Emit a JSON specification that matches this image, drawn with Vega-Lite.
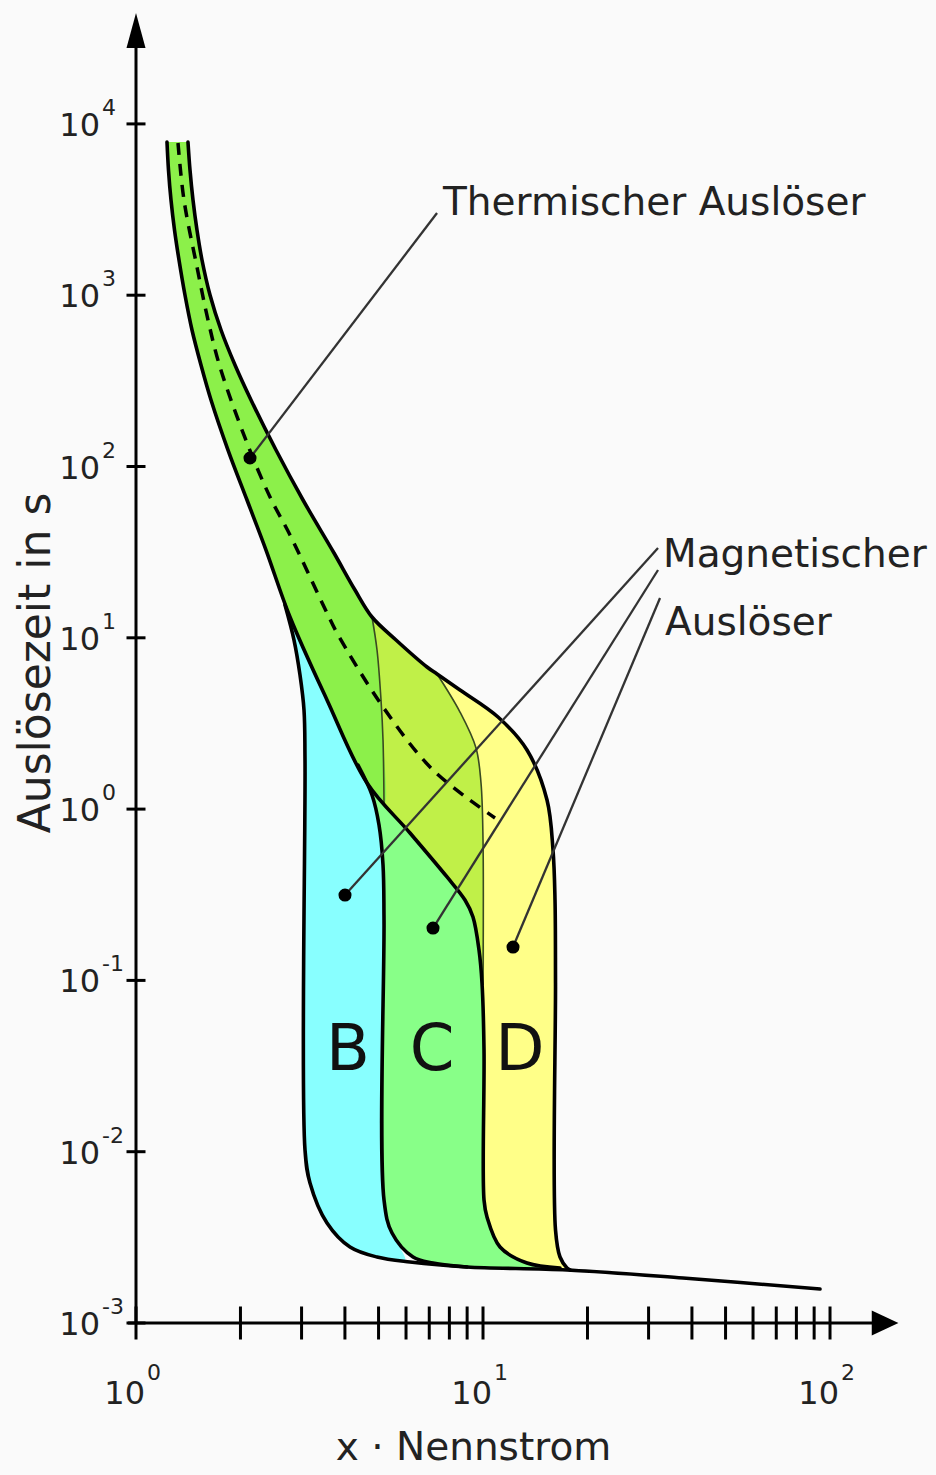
{
  "$schema": "https://vega.github.io/schema/vega-lite/v6.json",
  "width": 762,
  "height": 1310,
  "autosize": {"type": "none"},
  "padding": {"left": 136, "top": 13, "right": 38, "bottom": 152},
  "background": "#fafafa",
  "config": {"view": {"stroke": null}, "text": {"font": "DejaVu Sans", "color": "#111111"}},
  "datasets": {
    "polys": [
      {"s":"PY","i":1,"x":1.4118,"y":7841.6},{"s":"PY","i":2,"x":1.4309,"y":5381},{"s":"PY","i":3,"x":1.4597,"y":3595.5},{"s":"PY","i":4,"x":1.4988,"y":2402.6},{"s":"PY","i":5,"x":1.5495,"y":1605},{"s":"PY","i":6,"x":1.6342,"y":1002.7},{"s":"PY","i":7,"x":1.7579,"y":626.5},{"s":"PY","i":8,"x":1.9289,"y":391.3},{"s":"PY","i":9,"x":2.145,"y":244.5},{"s":"PY","i":10,"x":2.532,"y":124.8},{"s":"PY","i":11,"x":3.0288,"y":63.75},{"s":"PY","i":12,"x":3.7207,"y":31.26},{"s":"PY","i":13,"x":4.2768,"y":19.01},{"s":"PY","i":14,"x":4.787,"y":13.225},{"s":"PY","i":15,"x":5.6147,"y":9.709},{"s":"PY","i":16,"x":6.8966,"y":6.7532},{"s":"PY","i":17,"x":7.37,"y":6.146},{"s":"PY","i":18,"x":8.583,"y":4.9576},{"s":"PY","i":19,"x":11.0466,"y":3.448},{"s":"PY","i":20,"x":13.3901,"y":2.2131},{"s":"PY","i":21,"x":15.2917,"y":1.1301},{"s":"PY","i":22,"x":15.9122,"y":0.5771},{"s":"PY","i":23,"x":16.1247,"y":0.2946},{"s":"PY","i":24,"x":16.178,"y":0.09656},{"s":"PY","i":25,"x":16.178,"y":0.003491},{"s":"PY","i":26,"x":16.6686,"y":0.002428},{"s":"PY","i":27,"x":17.4611,"y":0.002095},
      {"s":"PY","i":28,"x":16.6686,"y":0.002095},{"s":"PY","i":29,"x":13.3901,"y":0.002239},{"s":"PY","i":30,"x":11.1941,"y":0.002778},{"s":"PY","i":31,"x":10.269,"y":0.004157},{"s":"PY","i":32,"x":10.0666,"y":0.005224},{"s":"PY","i":33,"x":10.0666,"y":0.03924},{"s":"PY","i":34,"x":9.9339,"y":0.09656},{"s":"PY","i":35,"x":9.7382,"y":0.1505},{"s":"PY","i":36,"x":9.3567,"y":0.2346},{"s":"PY","i":37,"x":8.8726,"y":0.2946},{"s":"PY","i":38,"x":7.8768,"y":0.4015},{"s":"PY","i":39,"x":6.1614,"y":0.7252},{"s":"PY","i":40,"x":4.6316,"y":1.4203},{"s":"PY","i":41,"x":3.5516,"y":4.3354},{"s":"PY","i":42,"x":2.7784,"y":13.225},{"s":"PY","i":43,"x":2.3695,"y":32.55},{"s":"PY","i":44,"x":2.0888,"y":63.75},{"s":"PY","i":45,"x":1.8414,"y":124.8},{"s":"PY","i":46,"x":1.645,"y":244.5},{"s":"PY","i":47,"x":1.5391,"y":391.3},{"s":"PY","i":48,"x":1.45,"y":626.5},{"s":"PY","i":49,"x":1.384,"y":1002.7},{"s":"PY","i":50,"x":1.3302,"y":1605},{"s":"PY","i":51,"x":1.2911,"y":2402.6},{"s":"PY","i":52,"x":1.2614,"y":3595.5},{"s":"PY","i":53,"x":1.2406,"y":5381},{"s":"PY","i":54,"x":1.2283,"y":7841.6},

      {"s":"PYG","i":1,"x":1.4118,"y":7841.6},{"s":"PYG","i":2,"x":1.4309,"y":5381},{"s":"PYG","i":3,"x":1.4597,"y":3595.5},{"s":"PYG","i":4,"x":1.4988,"y":2402.6},{"s":"PYG","i":5,"x":1.5495,"y":1605},{"s":"PYG","i":6,"x":1.6342,"y":1002.7},{"s":"PYG","i":7,"x":1.7579,"y":626.5},{"s":"PYG","i":8,"x":1.9289,"y":391.3},{"s":"PYG","i":9,"x":2.145,"y":244.5},{"s":"PYG","i":10,"x":2.532,"y":124.8},{"s":"PYG","i":11,"x":3.0288,"y":63.75},{"s":"PYG","i":12,"x":3.7207,"y":31.26},{"s":"PYG","i":13,"x":4.2768,"y":19.01},{"s":"PYG","i":14,"x":4.787,"y":13.225},{"s":"PYG","i":15,"x":5.6147,"y":9.709},{"s":"PYG","i":16,"x":6.8966,"y":6.7532},{"s":"PYG","i":17,"x":7.37,"y":6.146},
      {"s":"PYG","i":18,"x":8.583,"y":3.6881},{"s":"PYG","i":19,"x":9.5461,"y":2.2733},{"s":"PYG","i":20,"x":9.8682,"y":1.4203},{"s":"PYG","i":21,"x":10.0,"y":0.66},{"s":"PYG","i":22,"x":10.0,"y":0.094},
      {"s":"PYG","i":23,"x":9.9339,"y":0.09656},{"s":"PYG","i":24,"x":9.7382,"y":0.1505},{"s":"PYG","i":25,"x":9.3567,"y":0.2346},{"s":"PYG","i":26,"x":8.8726,"y":0.2946},{"s":"PYG","i":27,"x":7.8768,"y":0.4015},{"s":"PYG","i":28,"x":6.1614,"y":0.7252},{"s":"PYG","i":29,"x":4.6316,"y":1.4203},{"s":"PYG","i":30,"x":3.5516,"y":4.3354},{"s":"PYG","i":31,"x":2.7784,"y":13.225},{"s":"PYG","i":32,"x":2.3695,"y":32.55},{"s":"PYG","i":33,"x":2.0888,"y":63.75},{"s":"PYG","i":34,"x":1.8414,"y":124.8},{"s":"PYG","i":35,"x":1.645,"y":244.5},{"s":"PYG","i":36,"x":1.5391,"y":391.3},{"s":"PYG","i":37,"x":1.45,"y":626.5},{"s":"PYG","i":38,"x":1.384,"y":1002.7},{"s":"PYG","i":39,"x":1.3302,"y":1605},{"s":"PYG","i":40,"x":1.2911,"y":2402.6},{"s":"PYG","i":41,"x":1.2614,"y":3595.5},{"s":"PYG","i":42,"x":1.2406,"y":5381},{"s":"PYG","i":43,"x":1.2283,"y":7841.6},

      {"s":"PL","i":1,"x":1.4118,"y":7841.6},{"s":"PL","i":2,"x":1.4309,"y":5381},{"s":"PL","i":3,"x":1.4597,"y":3595.5},{"s":"PL","i":4,"x":1.4988,"y":2402.6},{"s":"PL","i":5,"x":1.5495,"y":1605},{"s":"PL","i":6,"x":1.6342,"y":1002.7},{"s":"PL","i":7,"x":1.7579,"y":626.5},{"s":"PL","i":8,"x":1.9289,"y":391.3},{"s":"PL","i":9,"x":2.145,"y":244.5},{"s":"PL","i":10,"x":2.532,"y":124.8},{"s":"PL","i":11,"x":3.0288,"y":63.75},{"s":"PL","i":12,"x":3.7207,"y":31.26},{"s":"PL","i":13,"x":4.2768,"y":19.01},{"s":"PL","i":14,"x":4.787,"y":13.225},
      {"s":"PL","i":15,"x":4.9494,"y":8.4865},{"s":"PL","i":16,"x":5.0826,"y":4.3354},{"s":"PL","i":17,"x":5.1505,"y":2.5315},{"s":"PL","i":18,"x":5.1848,"y":1.0567},
      {"s":"PL","i":19,"x":4.6316,"y":1.4203},{"s":"PL","i":20,"x":3.5516,"y":4.3354},{"s":"PL","i":21,"x":2.7784,"y":13.225},{"s":"PL","i":22,"x":2.3695,"y":32.55},{"s":"PL","i":23,"x":2.0888,"y":63.75},{"s":"PL","i":24,"x":1.8414,"y":124.8},{"s":"PL","i":25,"x":1.645,"y":244.5},{"s":"PL","i":26,"x":1.5391,"y":391.3},{"s":"PL","i":27,"x":1.45,"y":626.5},{"s":"PL","i":28,"x":1.384,"y":1002.7},{"s":"PL","i":29,"x":1.3302,"y":1605},{"s":"PL","i":30,"x":1.2911,"y":2402.6},{"s":"PL","i":31,"x":1.2614,"y":3595.5},{"s":"PL","i":32,"x":1.2406,"y":5381},{"s":"PL","i":33,"x":1.2283,"y":7841.6},

      {"s":"PC","i":1,"x":2.6878,"y":15.54},{"s":"PC","i":2,"x":2.8532,"y":9.709},{"s":"PC","i":3,"x":2.969,"y":6.064},{"s":"PC","i":4,"x":3.049,"y":3.7886},{"s":"PC","i":5,"x":3.0692,"y":1.9347},{"s":"PC","i":6,"x":3.0692,"y":0.010231},{"s":"PC","i":7,"x":3.1725,"y":0.006568},{"s":"PC","i":8,"x":3.5516,"y":0.003836},{"s":"PC","i":9,"x":4.1373,"y":0.002778},{"s":"PC","i":10,"x":4.9494,"y":0.002428},{"s":"PC","i":11,"x":5.9603,"y":0.002301},{"s":"PC","i":12,"x":5.4677,"y":0.003352},{"s":"PC","i":13,"x":5.1848,"y":0.005224},{"s":"PC","i":14,"x":5.1848,"y":1.0567},{"s":"PC","i":15,"x":4.6316,"y":1.4203},{"s":"PC","i":16,"x":3.5516,"y":4.3354},{"s":"PC","i":17,"x":2.7784,"y":13.225},

      {"s":"PG","i":1,"x":4.3629,"y":1.8089},{"s":"PG","i":2,"x":4.787,"y":1.2086},{"s":"PG","i":3,"x":5.0156,"y":0.8077},{"s":"PG","i":4,"x":5.1505,"y":0.4718},{"s":"PG","i":5,"x":5.1848,"y":0.2253},{"s":"PG","i":6,"x":5.1848,"y":0.005224},{"s":"PG","i":7,"x":5.4677,"y":0.003352},{"s":"PG","i":8,"x":6.2853,"y":0.002428},{"s":"PG","i":9,"x":7.1767,"y":0.002239},{"s":"PG","i":10,"x":8.9913,"y":0.002123},{"s":"PG","i":11,"x":15.6,"y":0.002067},{"s":"PG","i":12,"x":13.3901,"y":0.002239},{"s":"PG","i":13,"x":11.1941,"y":0.002778},{"s":"PG","i":14,"x":10.269,"y":0.004157},{"s":"PG","i":15,"x":10.0666,"y":0.005224},{"s":"PG","i":16,"x":10.0666,"y":0.03924},{"s":"PG","i":17,"x":9.9339,"y":0.09656},{"s":"PG","i":18,"x":9.7382,"y":0.1505},{"s":"PG","i":19,"x":9.3567,"y":0.2346},{"s":"PG","i":20,"x":8.8726,"y":0.2946},{"s":"PG","i":21,"x":7.8768,"y":0.4015},{"s":"PG","i":22,"x":6.1614,"y":0.7252},{"s":"PG","i":23,"x":4.6316,"y":1.4203}
    ],
    "lines": [
      {"s":"U","i":1,"x":1.4118,"y":7841.6},{"s":"U","i":2,"x":1.4309,"y":5381},{"s":"U","i":3,"x":1.4597,"y":3595.5},{"s":"U","i":4,"x":1.4988,"y":2402.6},{"s":"U","i":5,"x":1.5495,"y":1605},{"s":"U","i":6,"x":1.6342,"y":1002.7},{"s":"U","i":7,"x":1.7579,"y":626.5},{"s":"U","i":8,"x":1.9289,"y":391.3},{"s":"U","i":9,"x":2.145,"y":244.5},{"s":"U","i":10,"x":2.532,"y":124.8},{"s":"U","i":11,"x":3.0288,"y":63.75},{"s":"U","i":12,"x":3.7207,"y":31.26},{"s":"U","i":13,"x":4.2768,"y":19.01},{"s":"U","i":14,"x":4.787,"y":13.225},{"s":"U","i":15,"x":5.6147,"y":9.709},{"s":"U","i":16,"x":6.8966,"y":6.7532},{"s":"U","i":17,"x":7.37,"y":6.146},{"s":"U","i":18,"x":8.583,"y":4.9576},{"s":"U","i":19,"x":11.0466,"y":3.448},{"s":"U","i":20,"x":13.3901,"y":2.2131},{"s":"U","i":21,"x":15.2917,"y":1.1301},{"s":"U","i":22,"x":15.9122,"y":0.5771},{"s":"U","i":23,"x":16.1247,"y":0.2946},{"s":"U","i":24,"x":16.178,"y":0.09656},{"s":"U","i":25,"x":16.178,"y":0.003491},{"s":"U","i":26,"x":16.6686,"y":0.002428},{"s":"U","i":27,"x":17.4611,"y":0.002095},{"s":"U","i":28,"x":17.812,"y":0.002039},
      {"s":"L","i":1,"x":1.2283,"y":7841.6},{"s":"L","i":2,"x":1.2406,"y":5381},{"s":"L","i":3,"x":1.2614,"y":3595.5},{"s":"L","i":4,"x":1.2911,"y":2402.6},{"s":"L","i":5,"x":1.3302,"y":1605},{"s":"L","i":6,"x":1.384,"y":1002.7},{"s":"L","i":7,"x":1.45,"y":626.5},{"s":"L","i":8,"x":1.5391,"y":391.3},{"s":"L","i":9,"x":1.645,"y":244.5},{"s":"L","i":10,"x":1.8414,"y":124.8},{"s":"L","i":11,"x":2.0888,"y":63.75},{"s":"L","i":12,"x":2.3695,"y":32.55},{"s":"L","i":13,"x":2.7784,"y":13.225},{"s":"L","i":14,"x":3.5516,"y":4.3354},{"s":"L","i":15,"x":4.6316,"y":1.4203},{"s":"L","i":16,"x":6.1614,"y":0.7252},{"s":"L","i":17,"x":7.8768,"y":0.4015},{"s":"L","i":18,"x":8.8726,"y":0.2946},{"s":"L","i":19,"x":9.3567,"y":0.2346},{"s":"L","i":20,"x":9.7382,"y":0.1505},{"s":"L","i":21,"x":9.9339,"y":0.09656},{"s":"L","i":22,"x":10.0666,"y":0.03924},{"s":"L","i":23,"x":10.0666,"y":0.005224},{"s":"L","i":24,"x":10.269,"y":0.004157},{"s":"L","i":25,"x":11.1941,"y":0.002778},{"s":"L","i":26,"x":13.3901,"y":0.002239},{"s":"L","i":27,"x":16.6686,"y":0.002095},
      {"s":"BL","i":1,"x":2.6878,"y":15.54},{"s":"BL","i":2,"x":2.8532,"y":9.709},{"s":"BL","i":3,"x":2.969,"y":6.064},{"s":"BL","i":4,"x":3.049,"y":3.7886},{"s":"BL","i":5,"x":3.0692,"y":1.9347},{"s":"BL","i":6,"x":3.0692,"y":0.010231},{"s":"BL","i":7,"x":3.1725,"y":0.006568},{"s":"BL","i":8,"x":3.5516,"y":0.003836},{"s":"BL","i":9,"x":4.1373,"y":0.002778},{"s":"BL","i":10,"x":4.9494,"y":0.002428},{"s":"BL","i":11,"x":6.1614,"y":0.00227},{"s":"BL","i":12,"x":8.9913,"y":0.002123},{"s":"BL","i":13,"x":17.4611,"y":0.002039},{"s":"BL","i":14,"x":37.7,"y":0.001831},{"s":"BL","i":15,"x":93.573,"y":0.001579},
      {"s":"CL","i":1,"x":4.3629,"y":1.8089},{"s":"CL","i":2,"x":4.787,"y":1.2086},{"s":"CL","i":3,"x":5.0156,"y":0.8077},{"s":"CL","i":4,"x":5.1505,"y":0.4718},{"s":"CL","i":5,"x":5.1848,"y":0.2253},{"s":"CL","i":6,"x":5.1848,"y":0.005224},{"s":"CL","i":7,"x":5.4677,"y":0.003352},{"s":"CL","i":8,"x":6.2853,"y":0.002428},{"s":"CL","i":9,"x":7.1767,"y":0.002239},{"s":"CL","i":10,"x":8.9913,"y":0.002123},
      {"s":"TB","i":1,"x":4.787,"y":13.225},{"s":"TB","i":2,"x":4.9494,"y":8.4865},{"s":"TB","i":3,"x":5.0826,"y":4.3354},{"s":"TB","i":4,"x":5.1505,"y":2.5315},{"s":"TB","i":5,"x":5.1848,"y":1.0567},
      {"s":"TC","i":1,"x":7.37,"y":6.146},{"s":"TC","i":2,"x":8.583,"y":3.6881},{"s":"TC","i":3,"x":9.5461,"y":2.2733},{"s":"TC","i":4,"x":9.8682,"y":1.4203},{"s":"TC","i":5,"x":10.0,"y":0.66},{"s":"TC","i":6,"x":10.0,"y":0.094},
      {"s":"DS","i":1,"x":1.3214,"y":7737},{"s":"DS","i":2,"x":1.3749,"y":3595.5},{"s":"DS","i":3,"x":1.4988,"y":1460.5},{"s":"DS","i":4,"x":1.6127,"y":716.4},{"s":"DS","i":5,"x":1.7461,"y":380.9},{"s":"DS","i":6,"x":2.0888,"y":137.2},{"s":"DS","i":7,"x":2.4332,"y":66.37},{"s":"DS","i":8,"x":2.7784,"y":39.83},{"s":"DS","i":9,"x":3.5516,"y":13.957},{"s":"DS","i":10,"x":3.7954,"y":10.666},{"s":"DS","i":11,"x":5.1505,"y":3.9454},{"s":"DS","i":12,"x":7.1767,"y":1.6913},{"s":"DS","i":13,"x":10.8286,"y":0.8871},
      {"s":"CT","i":1,"x":2.1309,"y":112.1},{"s":"CT","i":2,"x":7.37,"y":3018},
      {"s":"CB","i":1,"x":4.0023,"y":0.3151},{"s":"CB","i":2,"x":31.94,"y":33.44},
      {"s":"CC","i":1,"x":7.1767,"y":0.2022},{"s":"CC","i":2,"x":31.94,"y":24.88},
      {"s":"CD","i":1,"x":12.2035,"y":0.1566},{"s":"CD","i":2,"x":32.37,"y":17.08},
      {"s":"AY","i":1,"x":1,"y":0.001},{"s":"AY","i":2,"x":1,"y":27735},
      {"s":"AX","i":1,"x":0.9484,"y":0.001},{"s":"AX","i":2,"x":134.8,"y":0.001}
    ],
    "dots": [{"x":2.1309,"y":112.1},{"x":4.0023,"y":0.3151},{"x":7.1767,"y":0.2022},{"x":12.2035,"y":0.1566}],
    "xticks": [{"x":1,"y":0.001},{"x":2,"y":0.001},{"x":3,"y":0.001},{"x":4,"y":0.001},{"x":5,"y":0.001},{"x":6,"y":0.001},{"x":7,"y":0.001},{"x":8,"y":0.001},{"x":9,"y":0.001},{"x":10,"y":0.001},{"x":20,"y":0.001},{"x":30,"y":0.001},{"x":40,"y":0.001},{"x":50,"y":0.001},{"x":60,"y":0.001},{"x":70,"y":0.001},{"x":80,"y":0.001},{"x":90,"y":0.001},{"x":100,"y":0.001}],
    "yticks": [{"x":1,"y":0.001},{"x":1,"y":0.01},{"x":1,"y":0.1},{"x":1,"y":1},{"x":1,"y":10},{"x":1,"y":100},{"x":1,"y":1000},{"x":1,"y":10000}],
    "ylabs": [{"x":1,"y":0.001,"e":"-3"},{"x":1,"y":0.01,"e":"-2"},{"x":1,"y":0.1,"e":"-1"},{"x":1,"y":1,"e":"0"},{"x":1,"y":10,"e":"1"},{"x":1,"y":100,"e":"2"},{"x":1,"y":1000,"e":"3"},{"x":1,"y":10000,"e":"4"}],
    "xlabs": [{"x":1,"y":0.001,"e":"0"},{"x":10,"y":0.001,"e":"1"},{"x":100,"y":0.001,"e":"2"}],
    "arrows": [{"k":"up","x":1,"y":35096},{"k":"right","x":144.1,"y":0.001}],
    "ann": [{"x":7.6707,"y":2923,"txt":"Thermischer Auslöser"},{"x":33.02,"y":25.73,"txt":"Magnetischer"},{"x":33.46,"y":10.384,"txt":"Auslöser"}],
    "xtitle": [{"x":9.388,"y":0.00015754,"txt":"x · Nennstrom"}],
    "ytitle": [{"x":0.5651,"y":7.127,"txt":"Auslösezeit in s"}],
    "bcd": [{"x":4.0828,"y":0.03019,"txt":"B"},{"x":7.1293,"y":0.03019,"txt":"C"},{"x":12.7829,"y":0.03019,"txt":"D"}]
  },
  "encoding": {
    "x": {"field": "x", "type": "quantitative", "scale": {"type": "log", "domain": [1, 157], "nice": false}, "axis": null},
    "y": {"field": "y", "type": "quantitative", "scale": {"type": "log", "domain": [0.001, 44408], "nice": false}, "axis": null}
  },
  "layer": [
    {"data": {"name": "polys"}, "transform": [{"filter": "datum.s === 'PY'"}], "mark": {"type": "line", "fill": "#ffff88", "strokeWidth": 0, "strokeOpacity": 0, "interpolate": "catmull-rom"}, "encoding": {"order": {"field": "i", "type": "quantitative"}}},
    {"data": {"name": "polys"}, "transform": [{"filter": "datum.s === 'PYG'"}], "mark": {"type": "line", "fill": "#c0f048", "strokeWidth": 0, "strokeOpacity": 0, "interpolate": "catmull-rom"}, "encoding": {"order": {"field": "i", "type": "quantitative"}}},
    {"data": {"name": "polys"}, "transform": [{"filter": "datum.s === 'PL'"}], "mark": {"type": "line", "fill": "#8cf04a", "strokeWidth": 0, "strokeOpacity": 0, "interpolate": "catmull-rom"}, "encoding": {"order": {"field": "i", "type": "quantitative"}}},
    {"data": {"name": "polys"}, "transform": [{"filter": "datum.s === 'PC'"}], "mark": {"type": "line", "fill": "#88ffff", "strokeWidth": 0, "strokeOpacity": 0, "interpolate": "catmull-rom"}, "encoding": {"order": {"field": "i", "type": "quantitative"}}},
    {"data": {"name": "polys"}, "transform": [{"filter": "datum.s === 'PG'"}], "mark": {"type": "line", "fill": "#88ff88", "strokeWidth": 0, "strokeOpacity": 0, "interpolate": "catmull-rom"}, "encoding": {"order": {"field": "i", "type": "quantitative"}}},
    {"data": {"name": "lines"}, "transform": [{"filter": "datum.s === 'TB' || datum.s === 'TC'"}], "mark": {"type": "line", "color": "#3a4a22", "strokeWidth": 1.6, "interpolate": "catmull-rom"}, "encoding": {"detail": {"field": "s", "type": "nominal"}, "order": {"field": "i", "type": "quantitative"}}},
    {"data": {"name": "lines"}, "transform": [{"filter": "datum.s === 'U' || datum.s === 'L' || datum.s === 'BL' || datum.s === 'CL'"}], "mark": {"type": "line", "color": "#000000", "strokeWidth": 3.6, "interpolate": "catmull-rom", "strokeJoin": "round", "strokeCap": "round"}, "encoding": {"detail": {"field": "s", "type": "nominal"}, "order": {"field": "i", "type": "quantitative"}}},
    {"data": {"name": "lines"}, "transform": [{"filter": "datum.s === 'DS'"}], "mark": {"type": "line", "color": "#000000", "strokeWidth": 3.5, "strokeDash": [12, 9], "interpolate": "catmull-rom"}, "encoding": {"order": {"field": "i", "type": "quantitative"}}},
    {"data": {"name": "lines"}, "transform": [{"filter": "datum.s === 'CT' || datum.s === 'CB' || datum.s === 'CC' || datum.s === 'CD'"}], "mark": {"type": "line", "color": "#333333", "strokeWidth": 2.3}, "encoding": {"detail": {"field": "s", "type": "nominal"}, "order": {"field": "i", "type": "quantitative"}}},
    {"data": {"name": "dots"}, "mark": {"type": "point", "shape": "circle", "filled": true, "color": "#000000", "opacity": 1, "size": 170}},
    {"data": {"name": "lines"}, "transform": [{"filter": "datum.s === 'AY' || datum.s === 'AX'"}], "mark": {"type": "line", "color": "#000000", "strokeWidth": 3}, "encoding": {"detail": {"field": "s", "type": "nominal"}, "order": {"field": "i", "type": "quantitative"}}},
    {"data": {"name": "yticks"}, "mark": {"type": "tick", "orient": "horizontal", "size": 19, "thickness": 3, "color": "#000000", "opacity": 1}},
    {"data": {"name": "xticks"}, "mark": {"type": "tick", "orient": "vertical", "size": 33, "thickness": 3, "color": "#000000", "opacity": 1}},
    {"data": {"name": "arrows"}, "transform": [{"filter": "datum.k === 'up'"}], "mark": {"type": "point", "shape": "M0,-1L0.543,1L-0.543,1Z", "filled": true, "color": "#000000", "opacity": 1, "size": 1225, "strokeWidth": 0}},
    {"data": {"name": "arrows"}, "transform": [{"filter": "datum.k === 'right'"}], "mark": {"type": "point", "shape": "M1,0L-1,-0.936L-1,0.936Z", "filled": true, "color": "#000000", "opacity": 1, "size": 713, "strokeWidth": 0}},
    {"data": {"name": "ylabs"}, "mark": {"type": "text", "align": "right", "baseline": "middle", "dx": -36, "dy": 2, "fontSize": 32, "text": "10", "color": "#222222"}},
    {"data": {"name": "ylabs"}, "mark": {"type": "text", "align": "left", "baseline": "middle", "dx": -34, "dy": -16, "fontSize": 22, "color": "#222222"}, "encoding": {"text": {"field": "e"}}},
    {"data": {"name": "xlabs"}, "mark": {"type": "text", "align": "right", "baseline": "middle", "dx": 9, "dy": 71, "fontSize": 32, "text": "10", "color": "#222222"}},
    {"data": {"name": "xlabs"}, "mark": {"type": "text", "align": "left", "baseline": "middle", "dx": 11, "dy": 50, "fontSize": 22, "color": "#222222"}, "encoding": {"text": {"field": "e"}}},
    {"data": {"name": "ann"}, "mark": {"type": "text", "align": "left", "baseline": "alphabetic", "fontSize": 39, "color": "#222222"}, "encoding": {"text": {"field": "txt"}}},
    {"data": {"name": "xtitle"}, "mark": {"type": "text", "align": "center", "baseline": "alphabetic", "fontSize": 39, "color": "#222222"}, "encoding": {"text": {"field": "txt"}}},
    {"data": {"name": "ytitle"}, "mark": {"type": "text", "align": "center", "baseline": "alphabetic", "angle": 270, "fontSize": 44, "color": "#222222"}, "encoding": {"text": {"field": "txt"}}},
    {"data": {"name": "bcd"}, "mark": {"type": "text", "align": "center", "baseline": "alphabetic", "fontSize": 64}, "encoding": {"text": {"field": "txt"}}}
  ]
}
